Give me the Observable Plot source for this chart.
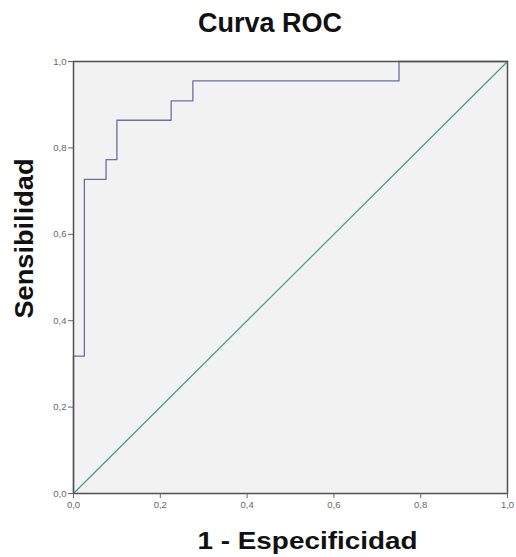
<!DOCTYPE html>
<html>
<head>
<meta charset="utf-8">
<script src="https://cdn.jsdelivr.net/npm/d3@7"></script>
<script src="https://cdn.jsdelivr.net/npm/@observablehq/plot@0.6"></script>
<style>
  html, body { margin:0; padding:0; background:white; }
  #title { width:516px; height:48px; line-height:46px; text-align:center; box-sizing:border-box; padding-left:24px;
    font-family:"Liberation Sans", Arial, sans-serif; font-weight:bold; font-size:27px; color:#111; }
</style>
</head>
<body>
<div id="title">Curva ROC</div>
<div id="chart"></div>
<script>
const titleText = "Curva ROC";
const xLabel = "1 - Especificidad";
const yLabel = "Sensibilidad";
// ROC curve (1 - specificity, sensitivity) step vertices
const fpr = [0, 0, 0.025, 0.025, 0.075, 0.075, 0.1, 0.1, 0.225, 0.225, 0.275, 0.275, 0.75, 0.75, 1];
const tpr = [0, 0.318, 0.318, 0.727, 0.727, 0.773, 0.773, 0.864, 0.864, 0.909, 0.909, 0.955, 0.955, 1, 1];
// reference diagonal
const diagX = [0, 1];
const diagY = [0, 1];
const ticks = [0, 0.2, 0.4, 0.6, 0.8, 1.0];

const roc = fpr.map((x, i) => ({x, y: tpr[i]}));
const diag = diagX.map((x, i) => ({x, y: diagY[i]}));
const fmt = d => d3.format(".1f")(d).replace(".", ",");

const chart = Plot.plot({
  width: 516, height: 509,
  marginLeft: 73, marginRight: 9, marginTop: 13, marginBottom: 64,
  x: {domain: [0, 1]},
  y: {domain: [0, 1]},
  style: {fontFamily: "'Liberation Sans', Arial, sans-serif", background: "white"},
  marks: [
    Plot.frame({fill: "#f2f2f2"}),
    Plot.line(diag, {x: "x", y: "y", stroke: "#3aa08a", strokeWidth: 1.2}),
    Plot.line(roc, {x: "x", y: "y", stroke: "#6e6ea0", strokeWidth: 1.3}),
    Plot.frame({stroke: "#505050", strokeWidth: 1.5}),
    Plot.axisX({ticks, tickFormat: fmt, tickSize: 5, tickPadding: 3, fontSize: 9.5, color: "#666", label: null}),
    Plot.axisY({ticks, tickFormat: fmt, tickSize: 5, tickPadding: 2, fontSize: 9.5, color: "#666", label: null}),
    Plot.text([xLabel], {frameAnchor: "bottom", textAnchor: "middle", dx: 17, dy: 55, fontSize: 24, fontWeight: "bold", fill: "#111", className: "xlab"}),
    Plot.text([yLabel], {frameAnchor: "left", textAnchor: "middle", rotate: -90, dx: -49, dy: -39, fontSize: 25, fontWeight: "bold", fill: "#111", className: "ylab"})
  ]
});
chart.querySelectorAll(".xlab text").forEach(t => { t.setAttribute("textLength", 220); t.setAttribute("lengthAdjust", "spacingAndGlyphs"); });
chart.querySelectorAll(".ylab text").forEach(t => { t.setAttribute("textLength", 160); t.setAttribute("lengthAdjust", "spacingAndGlyphs"); });
document.getElementById("chart").appendChild(chart);
</script>
</body>
</html>
